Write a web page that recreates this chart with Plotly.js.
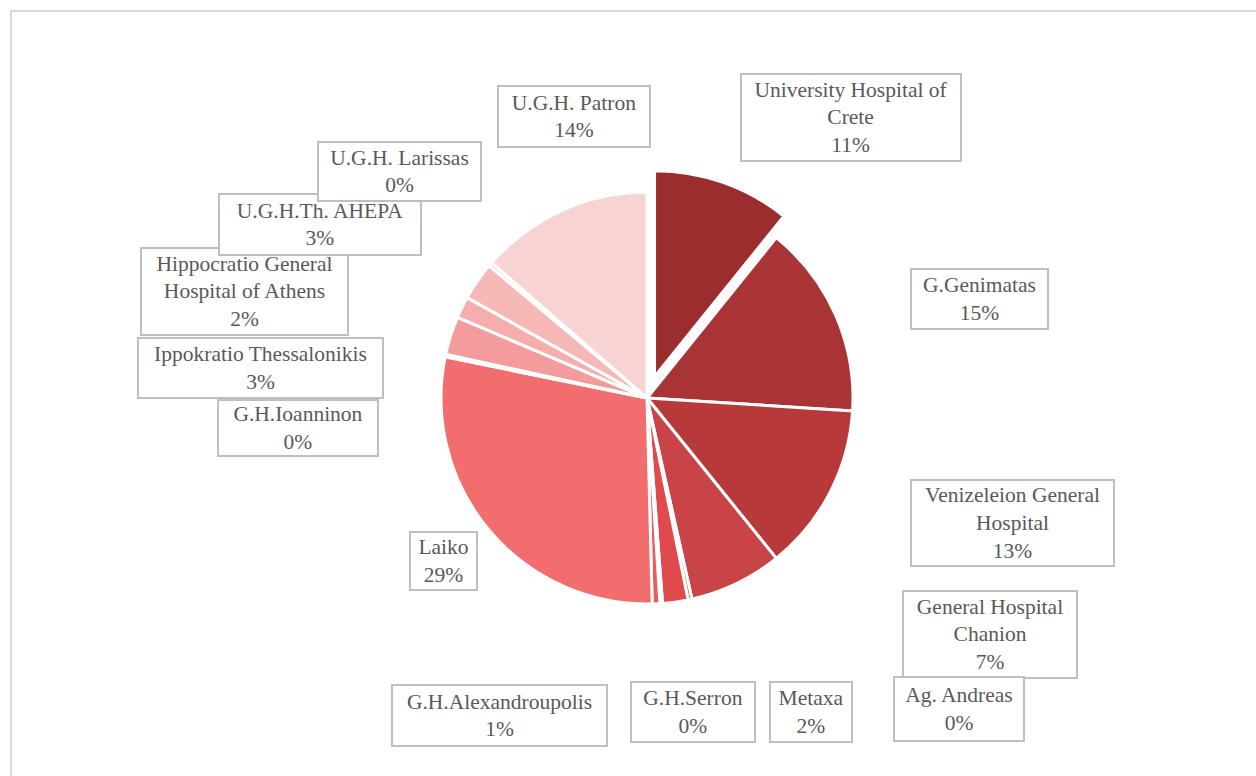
<!DOCTYPE html>
<html>
<head>
<meta charset="utf-8">
<script src="https://cdn.plot.ly/plotly-3.0.1.min.js"></script>
<style>
html,body{margin:0;padding:0;background:#ffffff;}
#chart{width:1256px;height:776px;}
</style>
</head>
<body>
<div id="chart"></div>
<script>
// ---- data (clockwise from 12 o'clock) ----
const hospitals = [
  "University Hospital of Crete", "G.Genimatas", "Venizeleion General Hospital",
  "General Hospital Chanion", "Ag. Andreas", "Metaxa", "G.H.Serron",
  "G.H.Alexandroupolis", "Laiko", "G.H.Ioanninon", "Ippokratio Thessalonikis",
  "Hippocratio General Hospital of Athens", "U.G.H.Th. AHEPA", "U.G.H. Larissas",
  "U.G.H. Patron"
];
const shares = [10.8, 15.2, 13.2, 7.3, 0.3, 2.0, 0.2, 0.6, 28.6, 0.2, 3.0, 1.7, 3.0, 0.3, 13.6];
// label names as wrapped in the chart
const labelNames = [
  "University Hospital of<br>Crete", "G.Genimatas", "Venizeleion General<br>Hospital",
  "General Hospital<br>Chanion", "Ag. Andreas", "Metaxa", "G.H.Serron",
  "G.H.Alexandroupolis", "Laiko", "G.H.Ioanninon", "Ippokratio Thessalonikis",
  "Hippocratio General<br>Hospital of Athens", "U.G.H.Th. AHEPA", "U.G.H. Larissas",
  "U.G.H. Patron"
];

// ---- styles / layout ----
const sliceColors = [
  "#9b2d2f", "#a93436", "#b7393a", "#c84446", "#d4474a", "#e04a4c", "#e45354",
  "#ea5b5c", "#f26d6d", "#f38482", "#f49c9b", "#f5adad", "#f6b7b7", "#f7c5c5", "#f8d3d3"
];
const slicePull = [0.11, 0, 0, 0, 0, 0, 0, 0, 0, 0, 0, 0, 0, 0, 0];
// label boxes in page pixels: [left, top, right, bottom]
const labelBoxes = [
  [740, 73, 962, 162], [910, 268, 1049, 330], [910, 479, 1115, 567],
  [902, 590, 1078, 679], [893, 676, 1025, 742], [769, 681, 853, 743],
  [630, 681, 756, 743], [391, 684, 608, 747], [409, 531, 478, 591],
  [217, 399, 379, 457], [137, 337, 384, 399], [140, 247, 349, 336],
  [218, 193, 422, 256], [317, 141, 482, 202], [497, 85, 651, 148]
];

const W = 1256, H = 776;
const pieCx = 647, pieCy = 398, pieR = 206;
const maxPull = Math.max(...slicePull);
const half = pieR * (1 + maxPull);

const total = shares.reduce((a, b) => a + b, 0);
const pct = shares.map(v => Math.round(v / total * 100) + "%");

const trace = {
  type: "pie",
  labels: hospitals,
  values: shares,
  sort: false,
  direction: "clockwise",
  rotation: 0,
  pull: slicePull,
  textinfo: "none",
  hoverinfo: "label+percent",
  marker: { colors: sliceColors, line: { color: "#ffffff", width: 3 } },
  domain: {
    x: [(pieCx - half) / W, (pieCx + half) / W],
    y: [1 - (pieCy + half) / H, 1 - (pieCy - half) / H]
  },
  showlegend: false
};

const bw = 2;
const annotations = labelBoxes.map((b, i) => ({
  xref: "paper", yref: "paper",
  x: (b[0] + b[2]) / 2 / W,
  y: 1 - (b[1] + b[3]) / 2 / H,
  xanchor: "center", yanchor: "middle",
  width: (b[2] - b[0]) - 2 * bw,
  height: (b[3] - b[1]) - 2 * bw,
  text: labelNames[i] + "<br>" + pct[i],
  showarrow: false,
  align: "center", valign: "middle",
  bgcolor: "#ffffff",
  bordercolor: "#bfbfbf",
  borderwidth: bw,
  borderpad: 0,
  font: { family: "'Liberation Serif', 'Times New Roman', 'DejaVu Serif', serif", size: 21.5, color: "#595959" }
}));

const layout = {
  width: W, height: H,
  margin: { l: 0, r: 0, t: 0, b: 0 },
  paper_bgcolor: "#ffffff",
  plot_bgcolor: "#ffffff",
  showlegend: false,
  font: { family: "'Liberation Serif', 'Times New Roman', serif" },
  annotations: annotations,
  shapes: [{
    type: "rect", xref: "paper", yref: "paper",
    x0: 11 / W, x1: 1.05, y0: -0.05, y1: 1 - 11 / H,
    line: { color: "#d9d9d9", width: 2 }, fillcolor: "rgba(0,0,0,0)", layer: "below"
  }]
};

Plotly.newPlot("chart", [trace], layout, { staticPlot: true, displayModeBar: false });
</script>
</body>
</html>
